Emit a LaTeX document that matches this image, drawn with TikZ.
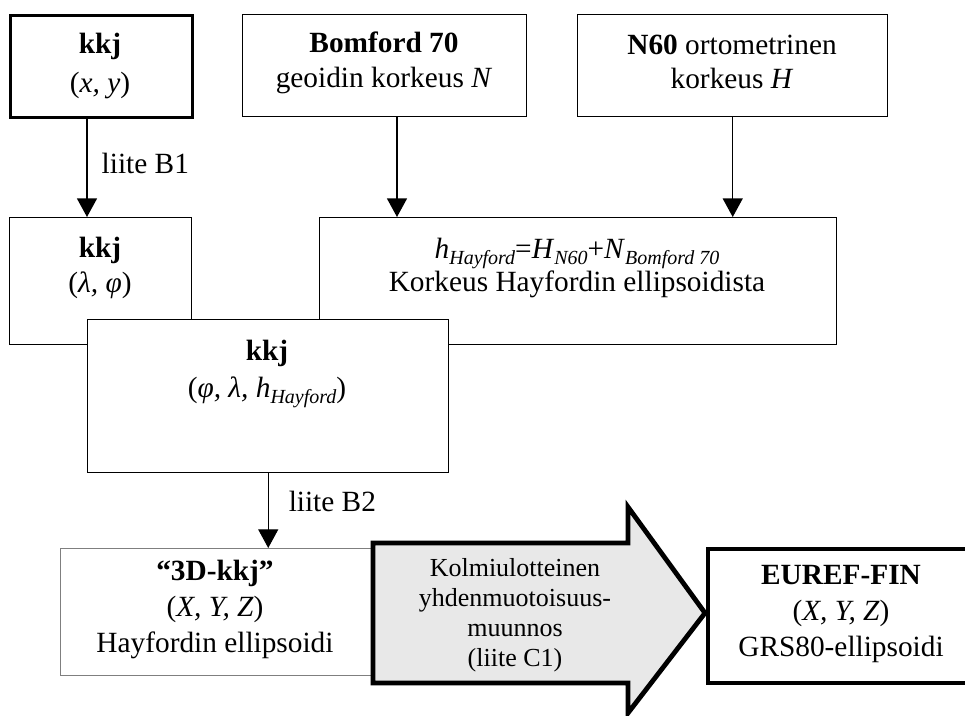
\documentclass[tikz,border=0pt]{standalone}
\usepackage{fontspec}
\setmainfont{Liberation Serif}
\usetikzlibrary{arrows.meta,calc}

% italic subscript set in running text
\newcommand\lsub[1]{\raisebox{-0.22em}{\fontsize{15}{15}\selectfont\itshape #1}}

\tikzset{
  sz/.style 2 args={minimum width=#1*0.75pt, minimum height=#2*0.75pt},
  box/.style={draw, line width=1.1pt, inner sep=0pt, anchor=north west, fill=white},
  thickbox/.style={box, line width=2.5pt},
  heavybox/.style={box, line width=3pt},
  greybox/.style={box, draw=boxgrey},
  txt/.style={align=center, inner sep=0pt, font=\fontsize{22}{26}\selectfont},
  conn/.style={line width=1.1pt, -{Triangle[width=15pt,length=14pt]}},
  lbl/.style={anchor=west, inner sep=0pt, font=\fontsize{22}{26}\selectfont},
  bigarrow/.style={draw, line width=3.6pt, fill=arrowgrey, line join=miter},
}
\definecolor{boxgrey}{HTML}{7F7F7F}
\definecolor{arrowgrey}{HTML}{E8E8E8}

\begin{document}
\begin{tikzpicture}[x=0.75pt,y=-0.75pt]
\useasboundingbox (0,0) rectangle (965,715);

% top row: source systems
\node[thickbox, sz={182}{102}] (kkj1) at (9,14) {};
\node[box, sz={284}{102}] (bom) at (242,14) {};
\node[box, sz={310}{102}] (n60) at (577,14) {};

% second row
\node[box, sz={182}{127}] (kkjl) at (9,217) {};
\node[box, sz={517}{127}] (hbox) at (319,217) {};

% combined geodetic coordinates, lying over the second row
\node[box, sz={361}{153}] (kkj3) at (87,319) {};

% bottom row
\node[greybox, sz={311}{127}] (d3) at (60,548) {};
\node[heavybox, sz={270}{134}] (euref) at (706,547) {};

% transformation arrow
\draw[bigarrow] (373,543) -- (628,543) -- (628,507) -- (705,613)
  -- (628,713) -- (628,683) -- (373,683) -- cycle;

% box texts
\node[txt, font=\fontsize{22}{29}\selectfont] (kkj1t) at (100,66) {\textbf{kkj}\\(\textit{x, y})};
\node[txt] (bomt) at (384,63) {\textbf{Bomford 70}\\geoidin korkeus \textit{N}};
\node[txt] (n60t) at (732,62) {\textbf{N60} ortometrinen\\korkeus \textit{H}};
\node[txt] (kkjlt) at (100,268) {\textbf{kkj}\\(\textit{λ, φ})};
\node[txt, font=\fontsize{22}{25}\selectfont] (hboxt) at (577,268) {\textit{h}\lsub{Hayford}=\textit{H}\lsub{N60}+\textit{N}\lsub{Bomford 70}\\Korkeus Hayfordin ellipsoidista};
\node[txt, font=\fontsize{22}{28}\selectfont] (kkj3t) at (267,374) {\textbf{kkj}\\(\textit{φ, λ, h}\lsub{Hayford})};
\node[txt, font=\fontsize{22}{27}\selectfont] (d3t) at (215,609) {\textbf{“3D-kkj”}\\(\textit{X, Y, Z})\\Hayfordin ellipsoidi};
\node[txt, font=\fontsize{19.5}{22.5}\selectfont] (arrt) at (515,615) {Kolmiulotteinen\\yhdenmuotoisuus-\\muunnos\\(liite C1)};
\node[txt, font=\fontsize{22}{27}\selectfont] (eureft) at (841,614) {\textbf{EUREF-FIN}\\(\textit{X, Y, Z})\\GRS80-ellipsoidi};

% connectors
\coordinate (c1) at (87,0);
\coordinate (c2) at (397,0);
\draw[conn] (kkj1.south -| c1) -- node[lbl, pos=0.45, xshift=10.5pt] (b1) {liite B1} (kkjl.north -| c1);
\draw[conn] (bom.south -| c2) -- (hbox.north -| c2);
\draw[conn] (n60.south) -- (n60.south |- hbox.north);
\draw[conn, line width=0.8pt] (kkj3.south) -- node[lbl, pos=0.38, xshift=15pt] (b2) {liite B2} (kkj3.south |- d3.north);
\end{tikzpicture}
\end{document}
